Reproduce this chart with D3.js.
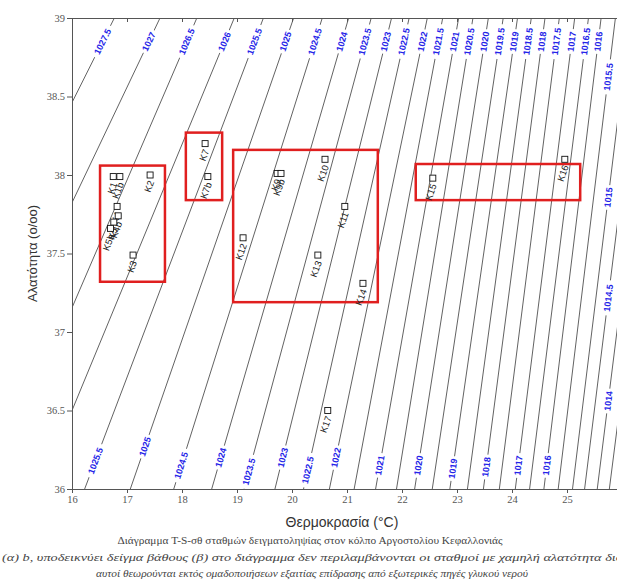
<!DOCTYPE html>
<html>
<head>
<meta charset="utf-8">
<script src="https://cdn.jsdelivr.net/npm/d3@7"></script>
<style>
    body { margin: 0; background: #fff; }
</style>
</head>
<body>
<div id="chart"></div>
<script>
// isopycnals (kg/m3) and the temperature where each crosses S = 36 and S = 39
const densities = [1027.5, 1027, 1026.5, 1026, 1025.5, 1025, 1024.5, 1024, 1023.5, 1023,
    1022.5, 1022, 1021.5, 1021, 1020.5, 1020, 1019.5, 1019, 1018.5, 1018,
    1017.5, 1017, 1016.5, 1016, 1015.5, 1015, 1014.5, 1014, 1013.5];
const tAtS36 = [12.48, 13.52, 14.58, 15.41, 16.23, 17.06, 17.85, 18.54, 19.13, 19.69,
    20.21, 20.68, 21.13, 21.52, 21.90, 22.23, 22.55, 22.87, 23.19, 23.48,
    23.77, 24.06, 24.32, 24.58, 24.84, 25.10, 25.32, 25.55, 25.77];
const tAtS39 = [16.77, 17.60, 18.27, 18.95, 19.48, 20.03, 20.55, 21.03, 21.44, 21.81,
    22.13, 22.46, 22.74, 23.03, 23.29, 23.57, 23.84, 24.10, 24.35, 24.60,
    24.86, 25.14, 25.39, 25.62, 25.88, 26.15, 26.38, 26.62, 26.86];

// contour labels
const topLabels = [1027.5, 1027, 1026.5, 1026, 1025.5, 1025, 1024.5, 1024, 1023.5, 1023,
    1022.5, 1022, 1021.5, 1021, 1020.5, 1020, 1019.5, 1019, 1018.5, 1018,
    1017.5, 1017, 1016.5, 1016];
const topLabelS = 38.85;
const bottomLabels = [1025.5, 1025, 1024.5, 1024, 1023.5, 1023, 1022.5, 1022, 1021, 1020, 1019, 1018, 1017, 1016];
const bottomLabelS = [36.18, 36.27, 36.15, 36.20, 36.11, 36.20, 36.12, 36.20, 36.15, 36.15, 36.13, 36.14, 36.15, 36.15];
const rightLabels = [1015.5, 1015, 1014.5, 1014];
const rightLabelT = 25.75;

// stations
const stationName = ["Κ1", "Κ1b", "Κ2", "Κ4", "Κ4b", "Κ5", "Κ5b", "Κ3", "Κ7", "Κ7b",
    "Κ9", "Κ9b", "Κ10", "Κ11", "Κ12", "Κ13", "Κ14", "Κ15", "Κ16", "Κ17"];
const stationT = [16.75, 16.87, 17.42, 16.82, 16.84, 16.76, 16.70, 17.11, 18.42, 18.47,
    19.73, 19.80, 20.60, 20.96, 19.11, 20.47, 21.29, 22.56, 24.96, 20.65];
const stationS = [37.99, 37.99, 38.00, 37.80, 37.74, 37.70, 37.66, 37.49, 38.20, 37.99,
    38.01, 38.01, 38.10, 37.80, 37.60, 37.49, 37.31, 37.98, 38.10, 36.50];

// groups (red boxes)
const boxT0 = [16.51, 18.07, 18.93, 22.25];
const boxT1 = [17.69, 18.73, 21.56, 25.24];
const boxS0 = [37.32, 37.84, 37.19, 37.84];
const boxS1 = [38.06, 38.27, 38.16, 38.07];

const tempTicks = [16, 17, 18, 19, 20, 21, 22, 23, 24, 25, 26];
const salTicks = [36, 36.5, 37, 37.5, 38, 38.5, 39];

const caption1 = "Διάγραμμα T-S-σθ σταθμών δειγματοληψίας στον κόλπο Αργοστολίου Κεφαλλονιάς";
const caption2 = "(α) b, υποδεικνύει δείγμα βάθους (β) στο διάγραμμα δεν περιλαμβάνονται οι σταθμοί με χαμηλή αλατότητα διότι";
const caption3 = "αυτοί θεωρούνται εκτός ομαδοποιήσεων εξαιτίας επίδρασης από εξωτερικές πηγές γλυκού νερού";

const width = 617;
const height = 582;
const margin = ({top: 18, right: -5, bottom: 93, left: 72});
const sans = "'Liberation Sans', Arial, sans-serif";
const serif = "'Liberation Serif', 'DejaVu Serif', serif";

const x = d3.scaleLinear()
    .domain([16, 26])
    .range([margin.left, width - margin.right]);
const y = d3.scaleLinear()
    .domain([36, 39])
    .range([height - margin.bottom, margin.top]);

const svg = d3.select("#chart").append("svg")
    .attr("width", width)
    .attr("height", height);

svg.append("defs").append("clipPath")
    .attr("id", "plot")
    .append("rect")
    .attr("x", x(16))
    .attr("y", y(39))
    .attr("width", x(26) - x(16))
    .attr("height", y(36) - y(39));

const lines = densities.map((d, i) => ({d, t0: tAtS36[i], t1: tAtS39[i]}));
const lineOf = d => lines.find(l => l.d === d);
const angleOf = l => Math.atan2(y(39) - y(36), x(l.t1) - x(l.t0)) * 180 / Math.PI;

const plot = svg.append("g").attr("clip-path", "url(#plot)");

plot.append("g")
    .attr("stroke", "#3a3a3a")
    .attr("stroke-width", 0.8)
    .selectAll("line")
    .data(lines)
    .join("line")
    .attr("x1", l => x(l.t0))
    .attr("y1", y(36))
    .attr("x2", l => x(l.t1))
    .attr("y2", y(39));

// contour labels, placed on their lines
const labelData = [
    ...topLabels.map(d => ({d, s: topLabelS})),
    ...bottomLabels.map((d, i) => ({d, s: bottomLabelS[i]})),
    ...rightLabels.map(d => {
        const l = lineOf(d);
        return {d, s: 36 + 3 * (rightLabelT - l.t0) / (l.t1 - l.t0)};
    })
].map(o => {
    const l = lineOf(o.d);
    const t = l.t0 + (l.t1 - l.t0) * (o.s - 36) / 3;
    return {text: String(o.d), px: x(t), py: y(o.s), angle: angleOf(l)};
});

const labels = plot.append("g")
    .selectAll("g")
    .data(labelData)
    .join("g")
    .attr("transform", d => `translate(${d.px},${d.py}) rotate(${d.angle})`);

labels.append("rect")
    .attr("x", d => -d.text.length * 2.6 - 2)
    .attr("y", -5)
    .attr("width", d => d.text.length * 5.2 + 4)
    .attr("height", 10)
    .attr("fill", "#fff");

labels.append("text")
    .attr("text-anchor", "middle")
    .attr("dy", "0.35em")
    .attr("fill", "#2424e8")
    .style("font-family", sans)
    .style("font-size", "9px")
    .style("font-weight", "bold")
    .text(d => d.text);

// red group boxes
plot.append("g")
    .attr("fill", "none")
    .attr("stroke", "#e01f1f")
    .attr("stroke-width", 2.5)
    .selectAll("rect")
    .data(boxT0.map((t, i) => ({t0: t, t1: boxT1[i], s0: boxS0[i], s1: boxS1[i]})))
    .join("rect")
    .attr("x", d => x(d.t0))
    .attr("y", d => y(d.s1))
    .attr("width", d => x(d.t1) - x(d.t0))
    .attr("height", d => y(d.s0) - y(d.s1));

// stations
const stations = stationName.map((n, i) => ({n, t: stationT[i], s: stationS[i]}));
const st = plot.append("g")
    .selectAll("g")
    .data(stations)
    .join("g")
    .attr("transform", d => `translate(${x(d.t)},${y(d.s)})`);

st.append("rect")
    .attr("x", -3)
    .attr("y", -3)
    .attr("width", 6)
    .attr("height", 6)
    .attr("fill", "#fff")
    .attr("stroke", "#111")
    .attr("stroke-width", 0.9);

st.append("text")
    .attr("transform", "translate(1,6) rotate(-70)")
    .attr("text-anchor", "end")
    .attr("dy", "0.35em")
    .attr("fill", "#222")
    .style("font-family", sans)
    .style("font-size", "9.5px")
    .text(d => d.n);

// axes
const axisColor = "#555";

svg.append("g")
    .attr("transform", `translate(0,${y(36)})`)
    .call(d3.axisBottom(x).tickValues(tempTicks).tickSize(4).tickPadding(3).tickFormat(d3.format("d")))
    .call(g => g.selectAll("path, line").attr("stroke", axisColor))
    .call(g => g.selectAll("text").attr("fill", axisColor)
        .style("font-family", serif).style("font-size", "10.5px"));

svg.append("g")
    .attr("transform", `translate(0,${y(39)})`)
    .call(d3.axisBottom(x).tickValues(tempTicks).tickSize(4).tickFormat(""))
    .call(g => g.selectAll("path, line").attr("stroke", axisColor));

svg.append("g")
    .attr("transform", `translate(${x(16)},0)`)
    .call(d3.axisLeft(y).tickValues(salTicks).tickSize(5).tickPadding(2).tickFormat(d => String(d)))
    .call(g => g.selectAll("path, line").attr("stroke", axisColor))
    .call(g => g.selectAll("text").attr("fill", axisColor)
        .style("font-family", serif).style("font-size", "10.5px"));

// titles
svg.append("text")
    .attr("transform", `translate(37,${(y(36) + y(39)) / 2}) rotate(-90)`)
    .attr("text-anchor", "middle")
    .attr("fill", "#333")
    .style("font-family", sans)
    .style("font-size", "13px")
    .text("Αλατότητα (o/oo)");

svg.append("text")
    .attr("x", 342)
    .attr("y", 527)
    .attr("text-anchor", "middle")
    .attr("fill", "#333")
    .style("font-family", sans)
    .style("font-size", "14px")
    .text("Θερμοκρασία (°C)");

svg.append("text")
    .attr("x", 310)
    .attr("y", 544)
    .attr("text-anchor", "middle")
    .attr("fill", "#444")
    .attr("textLength", 385)
    .attr("lengthAdjust", "spacingAndGlyphs")
    .style("font-family", serif)
    .style("font-size", "11px")
    .text(caption1);

svg.append("text")
    .attr("x", 2)
    .attr("y", 561)
    .attr("fill", "#444")
    .attr("textLength", 630)
    .attr("lengthAdjust", "spacingAndGlyphs")
    .style("font-family", serif)
    .style("font-style", "italic")
    .style("font-size", "10px")
    .text(caption2);

svg.append("text")
    .attr("x", 312)
    .attr("y", 577)
    .attr("text-anchor", "middle")
    .attr("fill", "#444")
    .attr("textLength", 432)
    .attr("lengthAdjust", "spacingAndGlyphs")
    .style("font-family", serif)
    .style("font-style", "italic")
    .style("font-size", "10px")
    .text(caption3);
</script>
</body>
</html>
